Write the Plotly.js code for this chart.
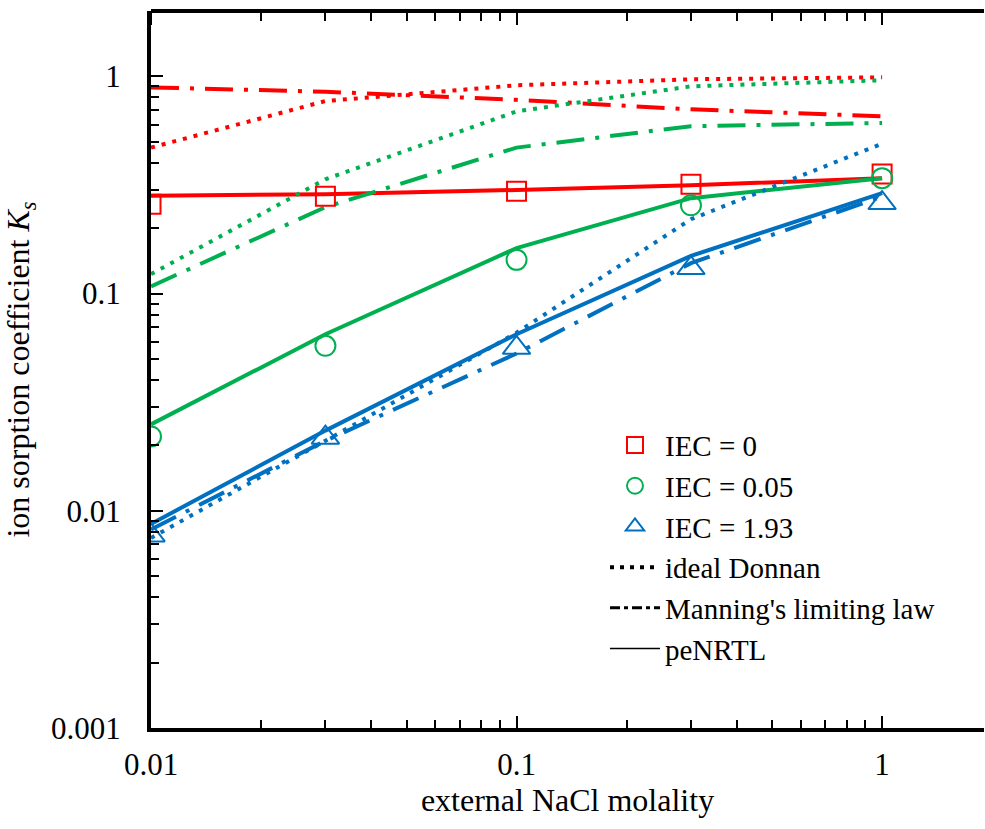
<!DOCTYPE html>
<html>
<head>
<meta charset="utf-8">
<script src="https://cdn.plot.ly/plotly-3.0.1.min.js"></script>
<style>html,body{margin:0;padding:0;background:#fff;overflow:hidden}#chart{width:985px;height:829px}</style>
</head>
<body>
<div id="chart"></div>
<script>
// external NaCl molality
const molality = [0.01, 0.03, 0.1, 0.3, 1];
// experimental data (markers)
const exp_IEC0    = [0.258, 0.281, 0.296, 0.319, 0.355];
const exp_IEC005  = [0.022, 0.0575, 0.143, 0.255, 0.34];
const exp_IEC193  = [0.0077, 0.0217, 0.0563, 0.131, 0.261];
// ideal Donnan
const donnan_IEC0   = [0.47, 0.77, 0.91, 0.97, 0.99];
const donnan_IEC005 = [0.123, 0.336, 0.69, 0.9, 0.96];
const donnan_IEC193 = [0.0075, 0.021, 0.066, 0.22, 0.49];
// Manning's limiting law
const manning_IEC0   = [0.89, 0.85, 0.78, 0.705, 0.655];
const manning_IEC005 = [0.108, 0.25, 0.47, 0.59, 0.61];
const manning_IEC193 = [0.0082, 0.021, 0.053, 0.138, 0.28];
// peNRTL
const penrtl_IEC0   = [0.282, 0.287, 0.3, 0.315, 0.34];
const penrtl_IEC005 = [0.025, 0.065, 0.162, 0.275, 0.34];
const penrtl_IEC193 = [0.0087, 0.0234, 0.065, 0.149, 0.29];

const legendNames = ["IEC = 0", "IEC = 0.05", "IEC = 1.93", "ideal Donnan", "Manning's limiting law", "peNRTL"];
const xTickVals = [0.01, 0.1, 1];
const xTickText = ["0.01", "0.1", "1"];
const yTickVals = [0.001, 0.01, 0.1, 1];
const yTickText = ["0.001", "0.01", "0.1", "1"];

const RED = "#ff0000", GREEN = "#00b050", BLUE = "#0070c0";
const DOT = "4px,7px";
const DASHDOT = "28px,11px,4px,11px";
const FONT = "Liberation Serif";

function line(y, color, dash) {
  return {x: molality, y: y, type: "scatter", mode: "lines", showlegend: false,
          line: {color: color, width: 4, dash: dash}, hoverinfo: "skip"};
}
function marks(y, color, symbol, name, size) {
  return {x: molality, y: y, type: "scatter", mode: "markers", name: name,
          marker: {symbol: symbol, size: size, color: color, line: {color: color, width: 2}}};
}
function legendLine(name, dash, width) {
  return {x: [null], y: [null], type: "scatter", mode: "lines", name: name,
          line: {color: "#000", width: width, dash: dash}};
}

const data = [
  line(donnan_IEC0, RED, DOT),
  line(manning_IEC0, RED, DASHDOT),
  line(penrtl_IEC0, RED, "solid"),
  line(donnan_IEC005, GREEN, DOT),
  line(manning_IEC005, GREEN, DASHDOT),
  line(penrtl_IEC005, GREEN, "solid"),
  line(donnan_IEC193, BLUE, DOT),
  line(manning_IEC193, BLUE, DASHDOT),
  line(penrtl_IEC193, BLUE, "solid"),
  marks(exp_IEC0, RED, "square-open", legendNames[0], 19),
  marks(exp_IEC005, GREEN, "circle-open", legendNames[1], 20),
  marks(exp_IEC193, BLUE, "triangle-up-open", legendNames[2], 24),
  legendLine(legendNames[3], "4px,6px", 4),
  legendLine(legendNames[4], "10px,4px,4px,4px", 3),
  legendLine(legendNames[5], "solid", 1.5),
  // invisible copy of one series on the top axis, so that the top tick axis is active
  {x: molality, y: penrtl_IEC0, xaxis: "x2", yaxis: "y", type: "scatter", mode: "lines",
   showlegend: false, hoverinfo: "skip", opacity: 0, line: {width: 0}}
];

function minorTicks(dir) {
  return {ticks: dir, ticklen: 8, tickwidth: 2, tickcolor: "#000", dtick: "D1", showgrid: false};
}

const layout = {
  width: 985, height: 829,
  margin: {l: 151, r: 1, t: 11, b: 101, pad: 0},
  paper_bgcolor: "#fff", plot_bgcolor: "#fff",
  font: {family: FONT, size: 31, color: "#000"},
  showlegend: true,
  legend: {x: 0.545, y: 0.43, xanchor: "left", yanchor: "top", itemwidth: 50,
           bgcolor: "rgba(255,255,255,0)", font: {family: FONT, size: 29, color: "#000"},
           traceorder: "normal", itemclick: false},
  xaxis: {
    type: "log", range: [-2, Math.log10(1.9)],
    tickvals: xTickVals, ticktext: xTickText,
    ticks: "inside", ticklen: 12, tickwidth: 2, tickcolor: "#000",
    minor: minorTicks("inside"),
    showline: true, linewidth: 4, linecolor: "#000", mirror: false,
    showgrid: false, zeroline: false, ticklabelstandoff: 6,
    title: {text: "external NaCl molality", font: {family: FONT, size: 32, color: "#000"}, standoff: 8}
  },
  // top frame: a bottom-sided axis placed at the top, so "outside" ticks point into the plot
  xaxis2: {
    type: "log", range: [-2, Math.log10(1.9)], overlaying: "x", anchor: "free", position: 1, side: "bottom",
    tickvals: xTickVals, showticklabels: false,
    ticks: "outside", ticklen: 12, tickwidth: 2, tickcolor: "#000",
    minor: minorTicks("outside"),
    showline: true, linewidth: 4, linecolor: "#000",
    showgrid: false, zeroline: false
  },
  yaxis: {
    type: "log", range: [-3, Math.log10(2)],
    tickvals: yTickVals, ticktext: yTickText,
    ticks: "inside", ticklen: 12, tickwidth: 2, tickcolor: "#000",
    minor: minorTicks("inside"),
    showline: true, linewidth: 4, linecolor: "#000", mirror: false,
    showgrid: false, zeroline: false, ticklabelstandoff: 20,
    title: {text: "ion sorption coefficient <i>K<sub>s</sub></i>", font: {family: FONT, size: 32, color: "#000"}, standoff: 14}
  }
};

Plotly.newPlot("chart", data, layout, {displayModeBar: false, staticPlot: true});
</script>
</body>
</html>
